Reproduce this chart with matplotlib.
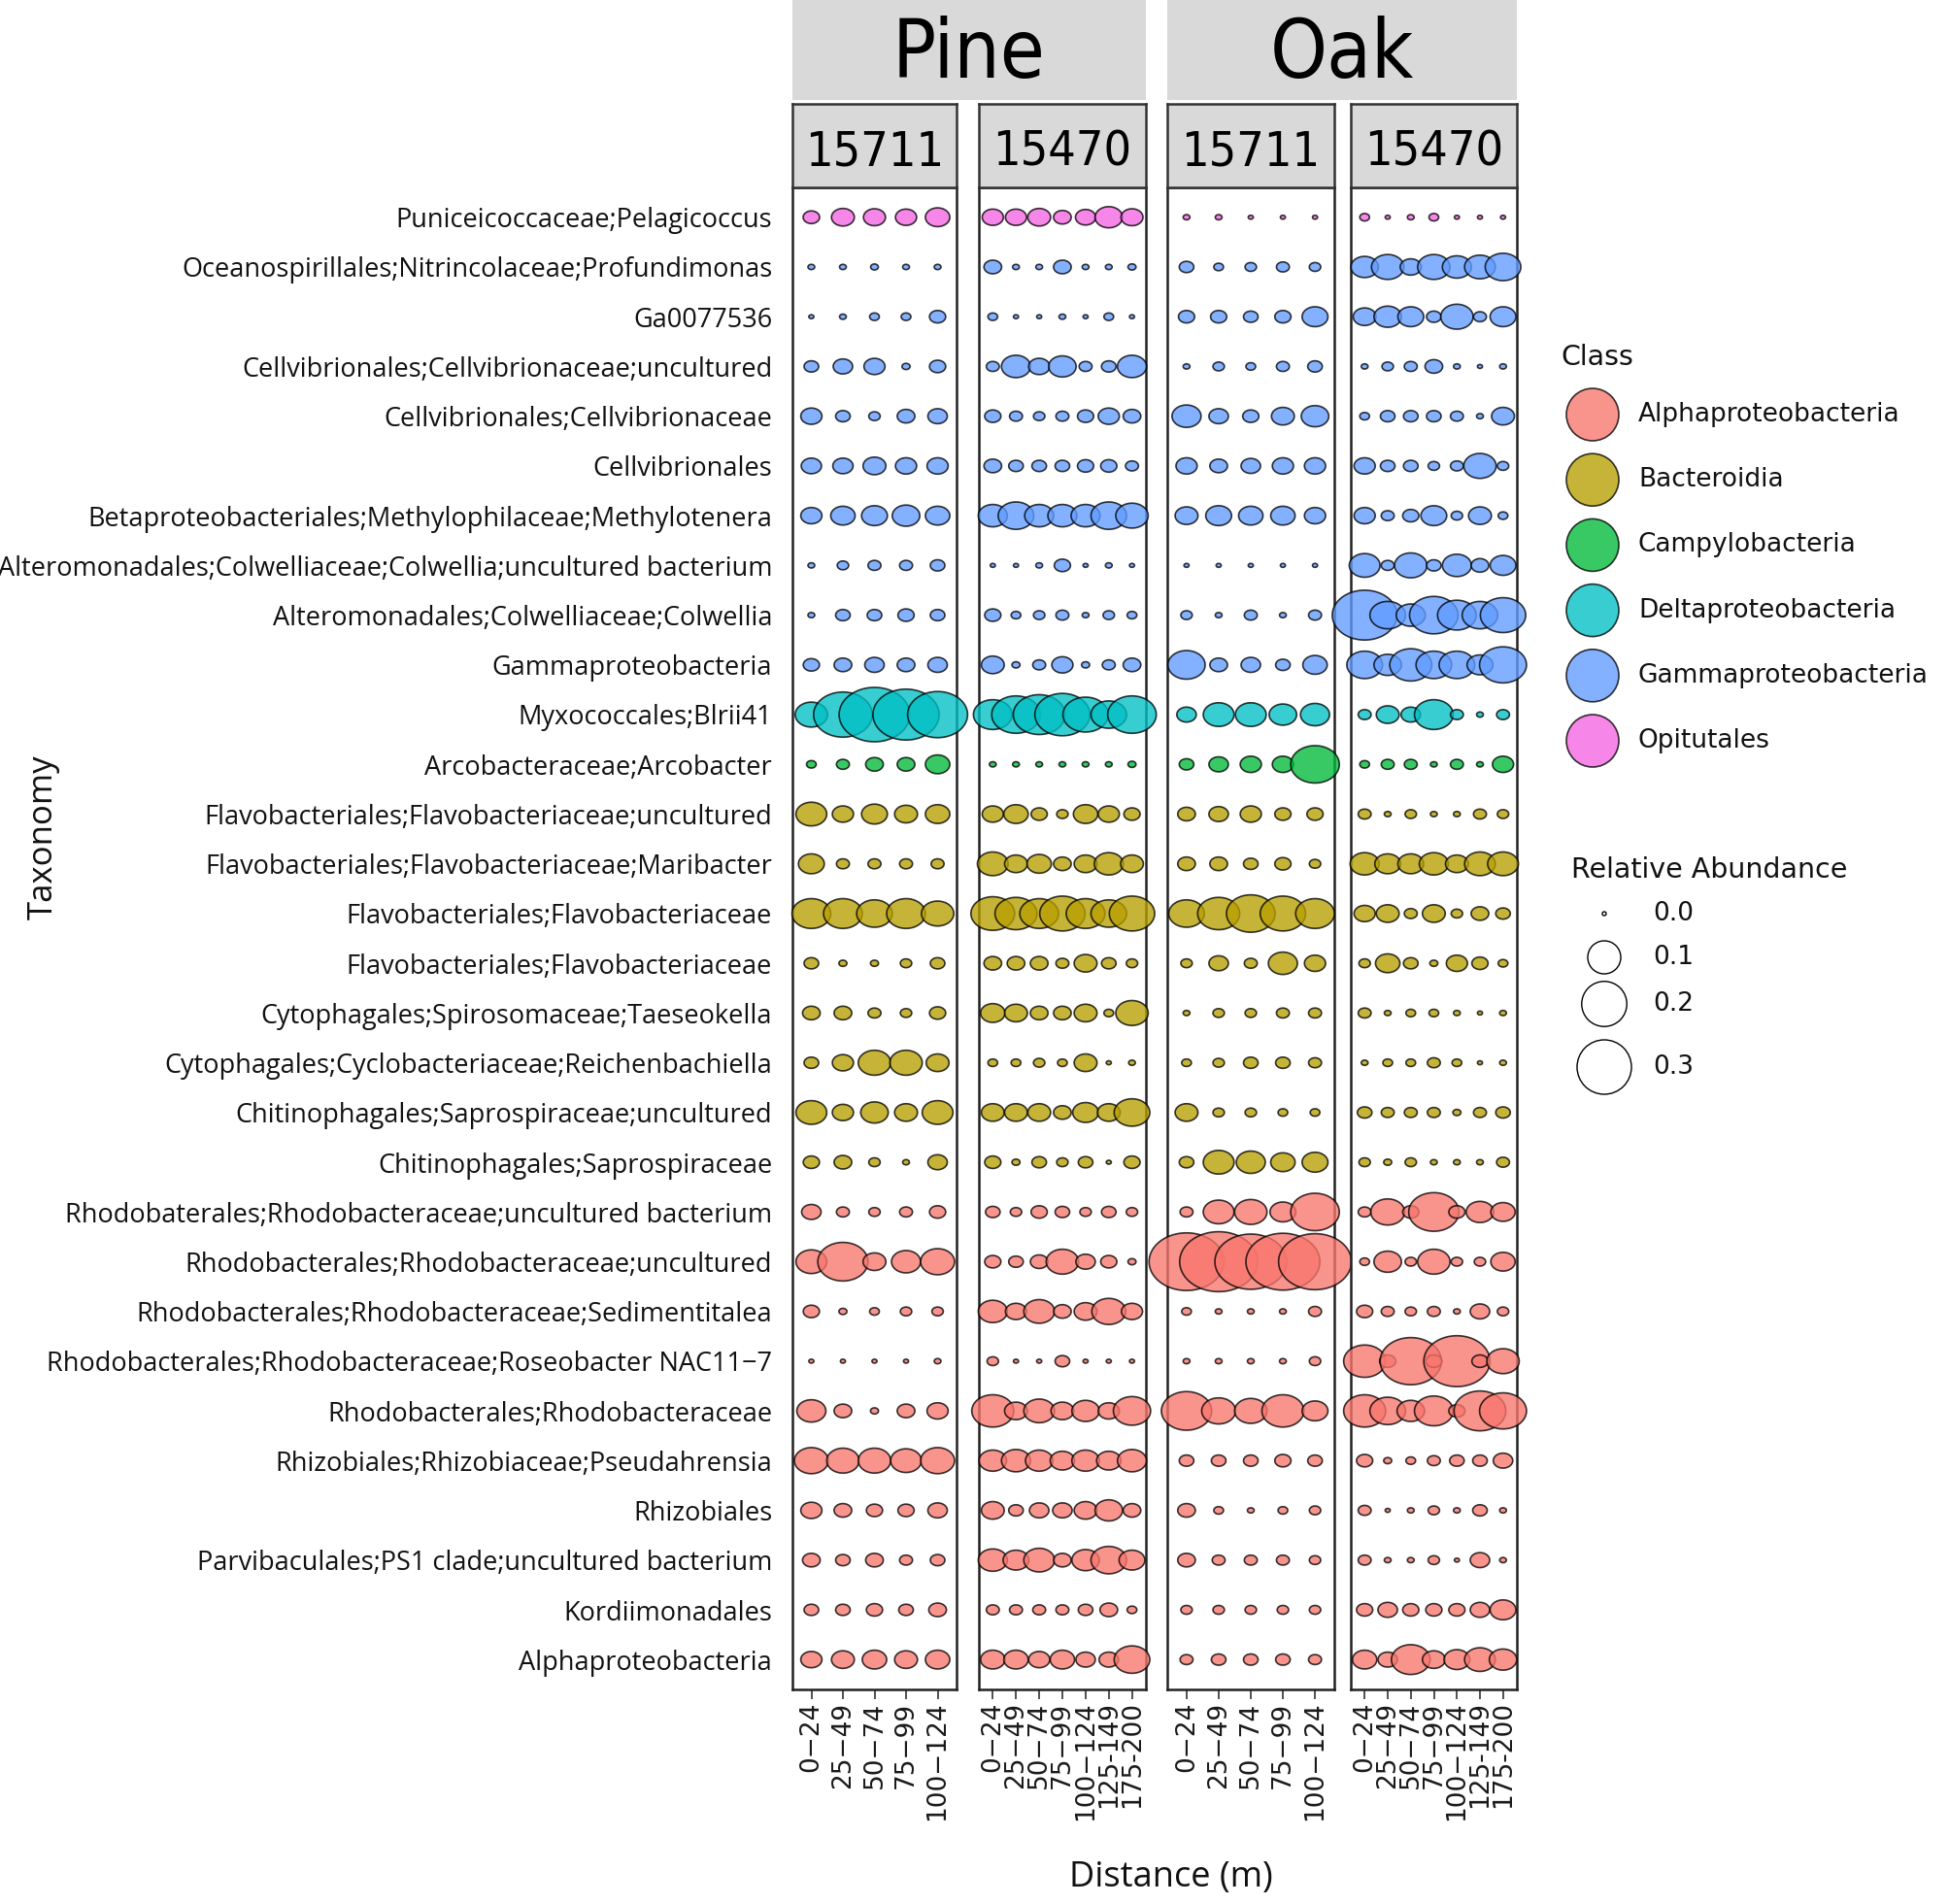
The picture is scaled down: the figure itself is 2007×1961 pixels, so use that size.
import numpy as np
import matplotlib.pyplot as plt
from matplotlib.path import Path

# ---- data -------------------------------------------------------------
taxa = [
    "Puniceicoccaceae;Pelagicoccus",
    "Oceanospirillales;Nitrincolaceae;Profundimonas",
    "Ga0077536",
    "Cellvibrionales;Cellvibrionaceae;uncultured",
    "Cellvibrionales;Cellvibrionaceae",
    "Cellvibrionales",
    "Betaproteobacteriales;Methylophilaceae;Methylotenera",
    "Alteromonadales;Colwelliaceae;Colwellia;uncultured bacterium",
    "Alteromonadales;Colwelliaceae;Colwellia",
    "Gammaproteobacteria",
    "Myxococcales;Blrii41",
    "Arcobacteraceae;Arcobacter",
    "Flavobacteriales;Flavobacteriaceae;uncultured",
    "Flavobacteriales;Flavobacteriaceae;Maribacter",
    "Flavobacteriales;Flavobacteriaceae",
    "Flavobacteriales;Flavobacteriaceae",
    "Cytophagales;Spirosomaceae;Taeseokella",
    "Cytophagales;Cyclobacteriaceae;Reichenbachiella",
    "Chitinophagales;Saprospiraceae;uncultured",
    "Chitinophagales;Saprospiraceae",
    "Rhodobaterales;Rhodobacteraceae;uncultured bacterium",
    "Rhodobacterales;Rhodobacteraceae;uncultured",
    "Rhodobacterales;Rhodobacteraceae;Sedimentitalea",
    "Rhodobacterales;Rhodobacteraceae;Roseobacter NAC11\u22127",
    "Rhodobacterales;Rhodobacteraceae",
    "Rhizobiales;Rhizobiaceae;Pseudahrensia",
    "Rhizobiales",
    "Parvibaculales;PS1 clade;uncultured bacterium",
    "Kordiimonadales",
    "Alphaproteobacteria",
]

taxa_class = (["Opitutales"] + ["Gammaproteobacteria"] * 9 + ["Deltaproteobacteria"]
              + ["Campylobacteria"] + ["Bacteroidia"] * 8 + ["Alphaproteobacteria"] * 10)

classes = ["Alphaproteobacteria", "Bacteroidia", "Campylobacteria",
           "Deltaproteobacteria", "Gammaproteobacteria", "Opitutales"]
class_colors = ["#F8766D", "#B79F00", "#00BA38", "#00BFC4", "#619CFF", "#F564E3"]

dist_5 = ["0\u221224", "25\u221249", "50\u221274", "75\u221299", "100\u2212124"]
dist_7 = ["0\u221224", "25\u221249", "50\u221274", "75\u221299", "100\u2212124", "125-149", "175-200"]

pine_15711 = [
    [.009, .022, .020, .018, .026],
    [.0002, .0002, .0005, .0002, .0002],
    [0, .0002, .0015, .0015, .0086],
    [.0063, .0144, .0178, .0006, .0086],
    [.018, .0063, .0028, .011, .0144],
    [.016, .016, .022, .018, .018],
    [.018, .026, .030, .035, .026],
    [.0002, .0028, .0043, .0043, .0063],
    [.0002, .0063, .0063, .0086, .0063],
    [.0086, .011, .0144, .011, .0144],
    [.052, .20, .30, .26, .21],
    [.0015, .0043, .011, .011, .026],
    [.046, .018, .030, .022, .026],
    [.030, .0043, .0043, .0043, .0043],
    [.079, .079, .065, .079, .052],
    [.0063, .0006, .0006, .0028, .0063],
    [.011, .011, .0043, .0028, .0086],
    [.0063, .018, .052, .052, .022],
    [.046, .018, .035, .022, .046],
    [.0086, .011, .0028, .0002, .0144],
    [.0144, .0043, .0028, .0043, .0086],
    [.046, .142, .022, .040, .058],
    [.0086, .0006, .0015, .0028, .0028],
    [0, 0, 0, 0, .0002],
    [.040, .011, .0006, .011, .018],
    [.058, .052, .052, .046, .058],
    [.018, .011, .0086, .0086, .0144],
    [.011, .0063, .011, .0043, .0063],
    [.0063, .0063, .0086, .0063, .011],
    [.018, .022, .026, .022, .026],
]

pine_15470 = [
    [.018, .018, .022, .011, .016, .035, .020],
    [.011, .0002, .0002, .011, .0002, .0002, .0006],
    [.0015, 0, 0, .0002, 0, .0015, 0],
    [.0043, .040, .018, .035, .0043, .0063, .040],
    [.0086, .0043, .0028, .0043, .0086, .018, .011],
    [.011, .0063, .0063, .0063, .0086, .0086, .0043],
    [.040, .065, .040, .040, .040, .065, .052],
    [0, 0, .0002, .0086, 0, .0002, 0],
    [.0086, .0015, .0028, .0043, .0002, .0028, .0015],
    [.022, .0006, .0043, .018, .0006, .0043, .011],
    [.079, .132, .152, .174, .113, .065, .132],
    [.0002, .0002, .0002, .0002, .0002, .0002, .0006],
    [.018, .026, .0086, .0028, .026, .018, .0086],
    [.046, .022, .026, .011, .022, .040, .022],
    [.104, .095, .079, .113, .079, .065, .113],
    [.011, .011, .011, .0043, .022, .0063, .0028],
    [.026, .022, .011, .011, .022, .0015, .052],
    [.0015, .0015, .0028, .0015, .022, 0, .0002],
    [.022, .022, .022, .011, .030, .022, .065],
    [.0086, .0006, .0063, .0028, .0063, 0, .0086],
    [.0063, .0028, .0086, .0063, .0028, .0063, .0028],
    [.0086, .0063, .011, .052, .0144, .0086, .0006],
    [.040, .018, .046, .011, .022, .058, .018],
    [.0028, 0, 0, .0063, 0, 0, 0],
    [.095, .022, .046, .022, .035, .018, .072],
    [.035, .040, .035, .026, .035, .026, .040],
    [.022, .0063, .0144, .0144, .022, .035, .011],
    [.040, .030, .046, .011, .035, .065, .030],
    [.0043, .0043, .0043, .0043, .0063, .011, .0015],
    [.026, .026, .018, .026, .0144, .0144, .065],
]

oak_15711 = [
    [.0002, .0002, 0, 0, 0],
    [.0063, .0015, .0028, .0043, .0028],
    [.0086, .0086, .0063, .0086, .030],
    [.0002, .0028, .0015, .0043, .0063],
    [.040, .0144, .0086, .022, .035],
    [.018, .011, .0144, .018, .018],
    [.022, .030, .026, .026, .018],
    [0, 0, 0, 0, 0],
    [.0028, .0002, .0043, .0002, .0043],
    [.072, .011, .0144, .0063, .026],
    [.0144, .046, .046, .035, .040],
    [.0063, .0144, .018, .018, .132],
    [.011, .0144, .018, .0086, .0086],
    [.011, .011, .0063, .0086, .0028],
    [.065, .095, .132, .113, .079],
    [.0028, .0144, .0043, .040, .018],
    [.0002, .0028, .0028, .0043, .0043],
    [.0015, .0028, .0063, .0063, .0043],
    [.022, .0028, .0028, .0015, .0015],
    [.0063, .046, .040, .026, .030],
    [.0043, .046, .052, .030, .132],
    [.34, .37, .31, .33, .32],
    [.0015, .0002, .0002, .0002, .0043],
    [.0002, .0002, .0002, .0002, .0028],
    [.142, .058, .052, .095, .030],
    [.0063, .0063, .0063, .0086, .0063],
    [.011, .0015, .0002, .0015, .0028],
    [.011, .0043, .0043, .0043, .0028],
    [.0028, .0028, .0028, .0028, .0028],
    [.0043, .0063, .0063, .0063, .0043],
]

oak_15470 = [
    [.0015, 0, .0002, .0015, 0, 0, 0],
    [.035, .052, .018, .052, .040, .046, .065],
    [.022, .035, .030, .0063, .052, .0043, .030],
    [.0002, .0028, .0043, .011, .0002, 0, .0002],
    [.0015, .0063, .0063, .0063, .0043, .0002, .022],
    [.018, .0063, .0063, .0028, .0043, .052, .0028],
    [.018, .0043, .0086, .030, .0028, .022, .0015],
    [.046, .0043, .052, .0063, .040, .011, .030],
    [.248, .065, .040, .132, .079, .065, .113],
    [.065, .035, .095, .065, .065, .030, .122],
    [.0043, .022, .0144, .079, .0043, .0002, .0043],
    [.0015, .0043, .0043, .0002, .0043, .0002, .018],
    [.0043, .0002, .0028, .0002, .0002, .0043, .0028],
    [.040, .030, .030, .040, .022, .046, .046],
    [.018, .022, .0043, .022, .0028, .011, .0063],
    [.0028, .026, .0063, .0006, .018, .0086, .0015],
    [.0043, .0002, .0015, .0015, .0002, 0, .0002],
    [.0002, .0015, .0015, .0043, .0015, 0, .0002],
    [.0063, .0043, .0043, .0043, .0006, .0043, .0063],
    [.0028, .0006, .0028, .0002, .0002, .0002, .0043],
    [.0043, .058, .0086, .142, .0086, .035, .026],
    [.0015, .035, .0028, .052, .0028, .0028, .026],
    [.0086, .0043, .0028, .0043, .0002, .0144, .0028],
    [.095, .0086, .22, .0086, .26, .0086, .052],
    [.095, .065, .035, .079, .0086, .152, .122],
    [.0086, .0006, .0015, .0043, .0063, .0063, .0144],
    [.0043, 0, .0002, .0028, .0002, .0063, .0002],
    [.0043, .0002, .0002, .0028, 0, .0144, .0002],
    [.0086, .0144, .0086, .0086, .0086, .0144, .030],
    [.026, .0144, .079, .022, .030, .046, .035],
]

size_breaks = [0.0, 0.1, 0.2, 0.3]

# ---- layout -----------------------------------------------------------
W, H, DPI = 2008, 1961, 100
PT = 72 / DPI
fig = plt.figure(figsize=(W / DPI, H / DPI), dpi=DPI)

def box(x0, y0, x1, y1):
    return [x0 / W, 1 - y1 / H, (x1 - x0) / W, (y1 - y0) / H]

def diam_px(v):
    return 4 + 95 * np.sqrt(np.asarray(v, dtype=float))

ASPECT = 1.3
t = np.linspace(0, 2 * np.pi, 73)
ellipse = Path(np.column_stack([np.cos(t), np.sin(t) / ASPECT]), closed=True)

color_of = dict(zip(classes, class_colors))
ALPHA = 0.78

label_font = ["Open Sans", "DejaVu Sans"]
strip_font = ["DejaVu Sans"]

panels = [
    ("15711", pine_15711, dist_5, 816, 985),
    ("15470", pine_15470, dist_7, 1008, 1180),
    ("15711", oak_15711, dist_5, 1202, 1374),
    ("15470", oak_15470, dist_7, 1391, 1562),
]
TOP, BOT = 193, 1740

for i, (site, vals, dists, x0, x1) in enumerate(panels):
    ax = fig.add_axes(box(x0, TOP, x1, BOT))
    arr = np.array(vals)
    nrow, ncol = arr.shape
    xx, yy = np.meshgrid(np.arange(ncol), np.arange(nrow))
    fc = [color_of[taxa_class[r]] for r in yy.ravel()]
    ax.scatter(xx.ravel(), yy.ravel(), s=(ASPECT * diam_px(arr.ravel()) * PT) ** 2,
               marker=ellipse, c=fc, alpha=ALPHA, edgecolors="black",
               linewidths=1.2, clip_on=False, zorder=3)
    ax.set_xlim(-0.6, ncol - 0.4)
    ax.set_ylim(nrow - 0.4, -0.6)
    ax.set_xticks(range(ncol))
    ax.set_xticklabels(dists, rotation=90, fontsize=19, family="DejaVu Sans",
                       color="#1a1a1a")
    ax.tick_params(axis="x", length=7, width=1.2, color="#333333", pad=2)
    ax.set_yticks(range(nrow))
    if i == 0:
        ax.set_yticklabels(taxa, fontsize=19.5, family=label_font, color="#111111")
        ax.tick_params(axis="y", length=0, pad=15)
    else:
        ax.set_yticklabels([])
        ax.tick_params(axis="y", length=0)
    for sp in ax.spines.values():
        sp.set_linewidth(1.8)
        sp.set_color("#222222")

    # site strip
    sx = fig.add_axes(box(x0, 107, x1, TOP))
    sx.set_facecolor("#D9D9D9")
    sx.set_xticks([])
    sx.set_yticks([])
    for sp in sx.spines.values():
        sp.set_linewidth(1.8)
        sp.set_color("#333333")
    sx.text(0.5, 0.42, site, transform=sx.transAxes, ha="center", va="center",
            fontsize=36, family=strip_font, fontstretch="condensed", color="black")

# forest strips
for name, x0, x1 in [("Pine", 816, 1180), ("Oak", 1202, 1562)]:
    tx = fig.add_axes(box(x0, 0, x1, 103))
    tx.set_facecolor("#D9D9D9")
    tx.set_xticks([])
    tx.set_yticks([])
    for sp in tx.spines.values():
        sp.set_visible(False)
    tx.text(0.5, 0.45, name, transform=tx.transAxes, ha="center", va="center",
            fontsize=60, family=strip_font, fontstretch="condensed", color="black")

fig.text(45 / W, 1 - 862 / H, "Taxonomy", rotation=90, ha="center", va="center",
         fontsize=25, family=label_font, color="#111111")
fig.text(1206 / W, 1 - 1934 / H, "Distance (m)", ha="center", va="center",
         fontsize=26, family=label_font, color="#111111")

# ---- legends ----------------------------------------------------------
lg = fig.add_axes(box(1590, 330, W, 1140))
lg.set_xlim(1590, W)
lg.set_ylim(1140, 330)
lg.axis("off")

lg.text(1607, 368, "Class", ha="left", va="center", fontsize=20.5,
        family="DejaVu Sans", color="#111111")
key_y = 427 + 67.2 * np.arange(len(classes))
lg.scatter(np.full(len(classes), 1640), key_y, s=(54 * PT) ** 2, c=class_colors,
           alpha=ALPHA, edgecolors="black", linewidths=1.2, clip_on=False)
for yk, name in zip(key_y, classes):
    lg.text(1687, yk, name, ha="left", va="center", fontsize=19,
            family="DejaVu Sans", color="#111111")

lg.text(1618, 896, "Relative Abundance", ha="left", va="center", fontsize=20.5,
        family="DejaVu Sans", color="#111111")
size_y = [941, 986, 1034, 1099]
lg.scatter(np.full(len(size_breaks), 1652), size_y,
           s=(diam_px(size_breaks) * PT) ** 2, facecolors="white",
           edgecolors="black", linewidths=1.0, clip_on=False)
for yk, b in zip(size_y, size_breaks):
    lg.text(1702, yk, f"{b:.1f}", ha="left", va="center", fontsize=19,
            family="DejaVu Sans", color="#111111")

fig.savefig("out.png", dpi=DPI, facecolor="white")
